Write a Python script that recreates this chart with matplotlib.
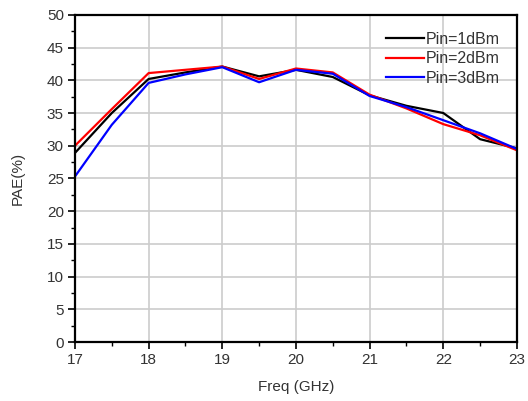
import matplotlib
matplotlib.use("Agg")
import matplotlib.pyplot as plt
from matplotlib.ticker import MultipleLocator

plt.rcParams['font.family'] = ['Liberation Sans', 'DejaVu Sans']

freq = [17, 17.5, 18, 18.5, 19, 19.5, 20, 20.5, 21, 21.5, 22, 22.5, 23]
pin1 = [28.9, 35.0, 40.2, 41.2, 42.1, 40.6, 41.6, 40.5, 37.7, 36.1, 35.0, 31.0, 29.6]
pin2 = [30.0, 35.6, 41.1, 41.6, 42.1, 40.2, 41.8, 41.2, 37.8, 35.7, 33.3, 31.6, 29.3]
pin3 = [25.3, 33.2, 39.6, 40.9, 42.0, 39.7, 41.6, 41.0, 37.6, 35.9, 33.9, 31.9, 29.5]
labels = ['Pin=1dBm', 'Pin=2dBm', 'Pin=3dBm']
colors = ['black', 'red', 'blue']

fig = plt.figure(figsize=(5.28, 4.01), dpi=100)
ax = fig.add_axes([0.142, 0.147, 0.837, 0.816])

for y, lab, c in zip([pin1, pin2, pin3], labels, colors):
    ax.plot(freq, y, color=c, lw=1.6, label=lab)

ax.set_xlim(17, 23)
ax.set_ylim(0, 50)
ax.xaxis.set_major_locator(MultipleLocator(1))
ax.xaxis.set_minor_locator(MultipleLocator(0.5))
ax.yaxis.set_major_locator(MultipleLocator(5))
ax.yaxis.set_minor_locator(MultipleLocator(2.5))
ax.grid(True, which='major', color='#cccccc', lw=1.2)
ax.set_axisbelow(True)
for s in ax.spines.values():
    s.set_linewidth(1.6)
ax.tick_params(which='major', direction='out', length=5, width=1.2, pad=3,
               labelsize=11, colors='black', labelcolor='#333333')
ax.tick_params(which='minor', direction='out', length=3, width=1.0)
ax.set_xlabel('Freq (GHz)', fontsize=11, color='#333333', labelpad=9)
ax.set_ylabel('PAE(%)', fontsize=11, color='#333333', labelpad=16)
leg = ax.legend(loc='upper right', frameon=False, fontsize=11.5, handlelength=2.4,
                handletextpad=0.1, borderaxespad=0.0, labelspacing=0.28,
                bbox_to_anchor=(0.975, 0.967))
for t in leg.get_texts():
    t.set_color('#333333')

fig.savefig('out.png', dpi=100)
